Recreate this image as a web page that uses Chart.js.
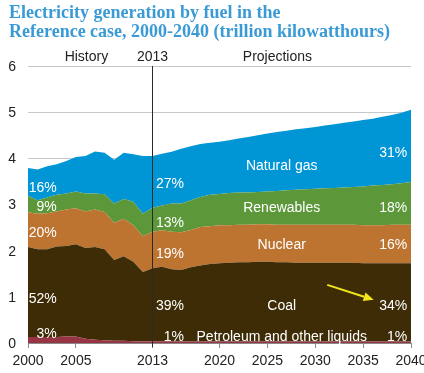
<!DOCTYPE html>
<html><head><meta charset="utf-8">
<script src="https://cdn.jsdelivr.net/npm/chart.js@4.4.1/dist/chart.umd.min.js"></script>
<style>html,body{margin:0;padding:0;background:#fff;}#wrap{width:424px;height:373px;position:relative;}</style>
</head><body><div id="wrap"><canvas id="c" width="424" height="373"></canvas></div>
<script>
// ---- data (trillion kWh) ----
const years = [2000,2001,2002,2003,2004,2005,2006,2007,2008,2009,2010,2011,2012,2013,
  2014,2015,2016,2017,2018,2019,2020,2021,2022,2023,2024,2025,2026,2027,
  2028,2029,2030,2031,2032,2033,2034,2035,2036,2037,2038,2039,2040];
const petroleum = [0.13,0.13,0.13,0.13,0.14,0.14,0.09,0.07,0.06,0.05,0.05,0.04,0.03,0.04,
  0.04,0.03,0.03,0.03,0.03,0.03,0.03,0.03,0.03,0.03,0.03,0.03,0.03,0.03,
  0.03,0.03,0.03,0.03,0.03,0.03,0.03,0.03,0.03,0.03,0.03,0.03,0.03];
const coal = [1.95,1.90,1.90,1.96,1.96,2.00,1.97,2.01,1.97,1.75,1.83,1.72,1.51,1.58,
  1.61,1.57,1.55,1.61,1.65,1.68,1.70,1.71,1.72,1.72,1.73,1.73,1.72,1.72,
  1.71,1.71,1.71,1.71,1.71,1.71,1.71,1.70,1.70,1.70,1.70,1.70,1.70];
const nuclear = [0.75,0.77,0.78,0.76,0.79,0.78,0.79,0.81,0.81,0.80,0.81,0.79,0.77,0.79,
  0.79,0.81,0.82,0.81,0.83,0.82,0.82,0.81,0.81,0.81,0.81,0.81,0.81,0.81,
  0.82,0.82,0.82,0.82,0.82,0.82,0.82,0.82,0.82,0.82,0.83,0.83,0.83];
const renewables = [0.36,0.29,0.34,0.36,0.35,0.36,0.39,0.35,0.38,0.42,0.43,0.51,0.49,0.52,
  0.54,0.61,0.62,0.64,0.65,0.68,0.68,0.70,0.70,0.70,0.70,0.71,0.73,0.75,
  0.76,0.77,0.78,0.79,0.80,0.81,0.82,0.84,0.86,0.87,0.88,0.90,0.93];
const naturalGas = [0.60,0.67,0.68,0.66,0.70,0.75,0.81,0.91,0.90,0.95,1.00,1.03,1.25,1.12,
  1.12,1.12,1.19,1.17,1.15,1.13,1.13,1.14,1.17,1.20,1.23,1.26,1.28,1.29,
  1.31,1.32,1.34,1.36,1.38,1.40,1.42,1.44,1.45,1.48,1.50,1.53,1.56];
const xTickValues = [2000,2005,2013,2020,2025,2030,2035,2040];
const titleLines = ['Electricity generation by fuel in the','Reference case, 2000-2040 (trillion kilowatthours)'];
const headerLabels = [['History',2006.1],['2013',2013],['Projections',2026.05]];
const shares2000 = ['16%','9%','20%','52%','3%'];
const shares2013 = ['27%','13%','19%','39%','1%'];
const shares2040 = ['31%','18%','16%','34%','1%'];
const fuelNames = ['Natural gas','Renewables','Nuclear','Coal','Petroleum and other liquids'];

// ---- styling / positions of annotations ----
const COLORS = {petroleum:'#983545', coal:'#3e2c07', nuclear:'#be7431', renewables:'#5c983a', gas:'#0096d6'};
const labelY2000 = [3.35,2.94,2.37,0.94,0.20];
const labelY2013 = [3.44,2.60,1.92,0.795,0.12];
const labelYname = [3.83,2.92,2.13,0.795,0.12];
const labelY2040 = [4.11,2.92,2.13,0.795,0.12];

function pts(arr){ return years.map((x,i)=>({x:x, y:arr[i]})); }
function ds(label, arr, color, fill){
  return {label, data: pts(arr), backgroundColor: color, borderColor: color, borderWidth: 0,
    pointRadius: 0, fill, tension: 0};
}

const annotate = {
  id: 'annotate',
  afterDatasetsDraw(chart){
    const {ctx, chartArea, scales:{x, y}} = chart;
    ctx.save();
    // 2013 divider
    const xv = Math.round(x.getPixelForValue(2013)) + 0.5;
    ctx.strokeStyle = '#2a2a2a'; ctx.lineWidth = 1;
    ctx.beginPath(); ctx.moveTo(xv, chartArea.top); ctx.lineTo(xv, chartArea.bottom + 4); ctx.stroke();
    // inside labels
    ctx.font = '14px "Liberation Sans", Arial, sans-serif';
    ctx.fillStyle = '#ffffff'; ctx.textBaseline = 'middle';
    ctx.textAlign = 'right';
    shares2000.forEach((t,i)=>ctx.fillText(t, x.getPixelForValue(2003.0), y.getPixelForValue(labelY2000[i])));
    shares2013.forEach((t,i)=>ctx.fillText(t, x.getPixelForValue(2016.3), y.getPixelForValue(labelY2013[i])));
    shares2040.forEach((t,i)=>ctx.fillText(t, x.getPixelForValue(2039.6), y.getPixelForValue(labelY2040[i])));
    ctx.textAlign = 'center';
    fuelNames.forEach((t,i)=>ctx.fillText(t, x.getPixelForValue(2026.5), y.getPixelForValue(labelYname[i])));
    // yellow arrow
    const x0 = x.getPixelForValue(2031.25), y0 = y.getPixelForValue(1.26);
    const x1 = x.getPixelForValue(2036.1), y1 = y.getPixelForValue(0.935);
    const ang = Math.atan2(y1-y0, x1-x0);
    const hl = 10, hw = 4.5;
    const bx = x1 - hl*Math.cos(ang), by = y1 - hl*Math.sin(ang);
    ctx.strokeStyle = '#f2e51b'; ctx.fillStyle = '#f2e51b'; ctx.lineWidth = 2;
    ctx.beginPath(); ctx.moveTo(x0,y0); ctx.lineTo(bx,by); ctx.stroke();
    ctx.beginPath(); ctx.moveTo(x1,y1);
    ctx.lineTo(bx + hw*Math.sin(ang), by - hw*Math.cos(ang));
    ctx.lineTo(bx - hw*Math.sin(ang), by + hw*Math.cos(ang));
    ctx.closePath(); ctx.fill();
    ctx.restore();
  },
  afterDraw(chart){
    const {ctx, chartArea, scales:{x}} = chart;
    ctx.save();
    ctx.font = 'bold 18px "Liberation Serif", "Times New Roman", serif';
    ctx.fillStyle = '#3a9ad6'; ctx.textAlign = 'left'; ctx.textBaseline = 'alphabetic';
    ctx.fillText(titleLines[0], 9, 18);
    ctx.fillText(titleLines[1], 9, 37);
    ctx.font = '14px "Liberation Sans", Arial, sans-serif';
    ctx.fillStyle = '#222'; ctx.textAlign = 'center'; ctx.textBaseline = 'middle';
    headerLabels.forEach(([t,v])=>ctx.fillText(t, x.getPixelForValue(v), chartArea.top - 9));
    ctx.restore();
  }
};

new Chart(document.getElementById('c'), {
  type: 'line',
  data: { datasets: [
    ds('Petroleum and other liquids', petroleum, COLORS.petroleum, 'origin'),
    ds('Coal', coal, COLORS.coal, '-1'),
    ds('Nuclear', nuclear, COLORS.nuclear, '-1'),
    ds('Renewables', renewables, COLORS.renewables, '-1'),
    ds('Natural gas', naturalGas, COLORS.gas, '-1')
  ]},
  options: {
    responsive: false, animation: false, devicePixelRatio: 1,
    layout: { padding: { top: 66, left: 0, right: 13, bottom: 0 } },
    plugins: { legend: {display:false}, title: {display:false}, tooltip: {enabled:false} },
    elements: { line: { borderWidth: 0 } },
    scales: {
      x: {
        type: 'linear', min: 2000, max: 2040,
        afterBuildTicks: s => { s.ticks = xTickValues.map(v=>({value:v})); },
        afterFit: s => { s.height = 30; s.paddingLeft = 0; s.paddingRight = 0; },
        grid: { drawOnChartArea: false, drawTicks: true, tickLength: 5, color: '#8a8a8a' },
        border: { display: true, color: '#8a8a8a' },
        ticks: { autoSkip: false, maxRotation: 0, padding: 5, color: '#222',
          font: { family: '"Liberation Sans", Arial, sans-serif', size: 14 },
          callback: v => String(v) }
      },
      y: {
        stacked: true, min: 0, max: 6,
        afterFit: s => { s.width = 28; s.paddingTop = 0; s.paddingBottom = 0; },
        grid: { color: '#c8c8c8', drawTicks: false },
        border: { display: false },
        ticks: { stepSize: 1, padding: 12, color: '#222', labelOffset: 1,
          font: { family: '"Liberation Sans", Arial, sans-serif', size: 14 } }
      }
    }
  },
  plugins: [annotate]
});
</script>
</body></html>
